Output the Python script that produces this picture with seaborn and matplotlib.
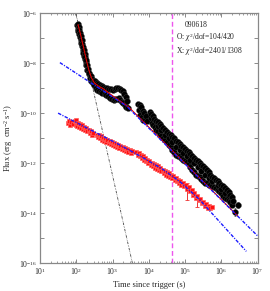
import numpy as np
import pandas as pd
import matplotlib
matplotlib.use("Agg")
import matplotlib.pyplot as plt
from matplotlib.ticker import FuncFormatter, NullFormatter
import seaborn as sns

# X-ray data (log10 time, log10 flux)
x_logt = [2.03, 2.04, 2.05, 2.06, 2.07, 2.08, 2.09, 2.10, 2.11, 2.12, 2.13, 2.14, 2.15, 2.16,
          2.17, 2.18, 2.19, 2.20, 2.21, 2.22, 2.23, 2.24, 2.25, 2.26, 2.27, 2.28, 2.30, 2.31,
          2.33, 2.34, 2.36, 2.38, 2.40, 2.42, 2.44, 2.46, 2.48, 2.50,
          2.52, 2.54, 2.56, 2.58, 2.60, 2.62, 2.65, 2.67, 2.70, 2.72, 2.75, 2.78, 2.80, 2.83,
          2.86, 2.88, 2.91, 2.93, 2.96, 2.98, 3.01, 3.03, 3.06, 3.08, 3.11, 3.13, 3.16, 3.18,
          3.20, 3.22, 3.24, 3.26, 3.28, 3.30, 3.32, 3.34, 3.36, 3.38, 3.40, 3.42,
          3.71, 3.73, 3.75, 3.77, 3.79, 3.81, 3.83, 3.85, 3.87, 3.90, 3.93, 3.95,
          4.03, 4.05, 4.07, 4.09, 4.11, 4.13, 4.15, 4.17,
          4.20, 4.20, 4.25, 4.25, 4.25, 4.30, 4.30, 4.35, 4.35, 4.35, 4.40, 4.40,
          4.45, 4.45, 4.45, 4.50, 4.50, 4.55, 4.55, 4.55, 4.60, 4.60, 4.65, 4.65, 4.65,
          4.70, 4.70, 4.75, 4.75, 4.75, 4.80, 4.80, 4.85, 4.85, 4.85, 4.90, 4.90,
          4.95, 4.95, 4.95, 5.00, 5.00, 5.05, 5.05, 5.05, 5.10, 5.10, 5.15, 5.15, 5.15,
          5.20, 5.20, 5.25, 5.25, 5.25, 5.30, 5.30, 5.35, 5.35, 5.35, 5.40, 5.40,
          5.45, 5.45, 5.45, 5.50, 5.50, 5.55, 5.55, 5.55, 5.60, 5.60, 5.65, 5.65, 5.65,
          5.70, 5.70, 5.75, 5.75, 5.75, 5.80, 5.80, 5.85, 5.85, 5.90, 5.90, 5.90,
          5.95, 5.95, 6.00, 6.00, 6.00, 6.05, 6.05, 6.10, 6.10, 6.10, 6.15, 6.15,
          6.20, 6.20, 6.20, 6.25, 6.25, 6.30, 6.30, 6.33, 6.37, 6.45]
x_logf = [-6.48, -6.62, -6.42, -6.70, -6.55, -6.82, -6.68, -6.95, -6.80, -7.05, -6.92, -7.20, -7.08, -7.32,
          -7.22, -7.45, -7.35, -7.58, -7.48, -7.70, -7.62, -7.82, -7.75, -7.95, -7.88, -8.08, -8.05, -8.25,
          -8.22, -8.42, -8.38, -8.58, -8.52, -8.70, -8.62, -8.80, -8.72, -8.88,
          -8.72, -8.98, -8.80, -9.05, -8.84, -9.10, -8.88, -9.16, -8.92, -9.20, -8.96, -9.24, -8.98, -9.28,
          -9.00, -9.32, -9.02, -9.38, -9.04, -9.42, -9.06, -9.45, -9.02, -9.44, -8.98, -9.42, -8.98, -9.40,
          -9.02, -9.48, -9.05, -9.54, -9.12, -9.60, -9.22, -9.66, -9.34, -9.74, -9.50, -9.80,
          -9.62, -9.85, -9.68, -10.05, -9.76, -10.15, -9.90, -10.25, -10.00, -10.28, -10.10, -10.32,
          -9.95, -10.20, -10.02, -10.38, -10.12, -10.48, -10.22, -10.55,
          -10.30, -10.65, -10.35, -10.72, -10.52, -10.42, -10.82, -10.50, -10.90, -10.68, -10.58, -11.00,
          -10.66, -11.08, -10.85, -10.75, -11.15, -10.82, -11.25, -11.00, -10.88, -11.35, -10.95, -11.45, -11.15,
          -11.00, -11.55, -11.10, -11.65, -11.35, -11.15, -11.70, -11.22, -11.72, -11.45, -11.30, -11.78,
          -11.35, -11.85, -11.60, -11.42, -11.90, -11.50, -11.95, -11.72, -11.55, -12.02, -11.62, -12.15, -11.85,
          -11.70, -12.25, -11.78, -12.35, -12.00, -11.85, -12.45, -11.92, -12.50, -12.15, -12.00, -12.55,
          -12.05, -12.62, -12.30, -12.12, -12.70, -12.18, -12.78, -12.45, -12.25, -12.80, -12.35, -12.85, -12.60,
          -12.48, -12.88, -12.55, -12.92, -12.72, -12.60, -12.95, -12.65, -13.00, -12.70, -13.05, -12.88,
          -12.78, -13.12, -12.85, -13.20, -13.02, -12.92, -13.30, -13.00, -13.38, -13.20, -13.08, -13.42,
          -13.15, -13.48, -13.32, -13.25, -13.55, -13.35, -13.65, -13.50, -13.93, -13.67]

# optical data (log10 time, log10 flux)
o_logt = [1.78, 1.80, 1.83, 1.86, 1.90, 1.96, 1.98, 2.00, 2.03, 2.05, 2.08, 2.10, 2.13, 2.16,
          2.19, 2.22, 2.25, 2.28, 2.31, 2.34, 2.37, 2.40, 2.43, 2.46,
          2.56, 2.59, 2.62, 2.65, 2.68, 2.71, 2.74, 2.77, 2.80, 2.83, 2.86, 2.89, 2.92, 2.95,
          2.98, 3.01, 3.04, 3.07, 3.10, 3.13, 3.16, 3.19, 3.22, 3.25, 3.28, 3.31, 3.34, 3.37,
          3.40, 3.43, 3.47, 3.51, 3.55,
          3.66, 3.69, 3.72, 3.75, 3.78, 3.81, 3.84, 3.87, 3.90, 3.93, 3.96, 3.99, 4.02, 4.05,
          4.08, 4.11, 4.14, 4.17, 4.20, 4.23, 4.26, 4.29, 4.32, 4.35, 4.38, 4.41, 4.44, 4.47,
          4.50, 4.53, 4.56, 4.59, 4.62, 4.65, 4.68, 4.71, 4.74, 4.77, 4.80, 4.83, 4.86, 4.90,
          4.94, 4.98, 5.02, 5.06, 5.10, 5.14, 5.18, 5.22, 5.26, 5.30, 5.34, 5.38, 5.42, 5.46,
          5.50, 5.54, 5.58, 5.62, 5.66, 5.70, 5.73]
o_logf = [-10.40, -10.32, -10.45, -10.36, -10.42, -10.30, -10.45, -10.28, -10.50, -10.38, -10.55, -10.42, -10.60, -10.48,
          -10.62, -10.55, -10.68, -10.60, -10.72, -10.65, -10.80, -10.72, -10.85, -10.78,
          -10.85, -10.95, -10.88, -11.00, -10.92, -11.05, -10.98, -11.10, -11.02, -11.15, -11.05, -11.18, -11.10, -11.22,
          -11.15, -11.26, -11.18, -11.30, -11.22, -11.35, -11.26, -11.38, -11.30, -11.42, -11.35, -11.46, -11.40, -11.50,
          -11.44, -11.55, -11.48, -11.58, -11.52,
          -11.55, -11.68, -11.60, -11.72, -11.65, -11.78, -11.70, -11.85, -11.78, -11.92, -11.85, -11.98, -11.90, -12.05,
          -11.98, -12.12, -12.03, -12.18, -12.08, -12.22, -12.12, -12.28, -12.18, -12.32, -12.25, -12.38, -12.30, -12.45,
          -12.35, -12.50, -12.40, -12.55, -12.45, -12.60, -12.52, -12.65, -12.58, -12.72, -12.65, -12.78, -12.72, -12.85,
          -12.78, -12.92, -12.88, -13.02, -12.95, -13.12, -13.05, -13.25, -13.20, -13.38, -13.30, -13.48, -13.42, -13.60,
          -13.55, -13.70, -13.62, -13.78, -13.70, -13.80, -13.75]

# a few larger error bars (log10 time, centre, low, high)
o_err_logt = [5.05, 5.33]
o_err_mid = [-13.10, -13.50]
o_err_lo = [-13.47, -13.74]
o_err_hi = [-12.78, -13.27]
x_err_logt = [6.37, 6.45]
x_err_mid = [-13.93, -13.67]
x_err_lo = [-14.10, -13.80]
x_err_hi = [-13.78, -13.55]

# model components (log10 time, log10 flux)
steep_logt = [1.99, 3.55]
steep_logf = [-6.0, -16.0]
xmod_logt = [1.55, 3.39, 7.0]
xmod_logf = [-7.97, -9.71, -14.9]
omod_logt = [1.50, 3.20, 3.90, 4.40, 4.90, 5.40, 6.69]
omod_logf = [-9.99, -11.26, -11.82, -12.25, -12.78, -13.45, -15.52]
xtot_logt = [2.05, 2.12, 2.20, 2.28, 2.35, 2.42, 2.50, 2.60, 2.75, 2.93, 3.20, 3.45, 4.0, 5.0, 6.45]
xtot_logf = [-6.45, -6.85, -7.35, -7.87, -8.28, -8.58, -8.78, -8.90, -9.02, -9.22, -9.50, -9.75,
             -10.55, -12.0, -14.1]
t_break = 4.4e4

x_major = [1e1, 1e2, 1e3, 1e4, 1e5, 1e6, 1e7]
y_major = [1e-16, 1e-15, 1e-14, 1e-13, 1e-12, 1e-11, 1e-10, 1e-9, 1e-8, 1e-7, 1e-6]

sns.set_style("ticks")
plt.rcParams["font.family"] = ["Liberation Serif", "DejaVu Serif"]
plt.rcParams["mathtext.fontset"] = "custom"
plt.rcParams["mathtext.rm"] = "Liberation Serif"
plt.rcParams["mathtext.it"] = "Liberation Serif:italic"

p = lambda v: 10 ** np.asarray(v, dtype=float)

fig = plt.figure(figsize=(2.70, 2.91), dpi=100)
ax = fig.add_axes([0.148, 0.095, 0.806, 0.859])

xdf = pd.DataFrame({"t": p(x_logt), "f": p(x_logf)})
odf = pd.DataFrame({"t": p(o_logt), "f": p(o_logf)})

ax.errorbar(p(o_err_logt), p(o_err_mid),
            yerr=[p(o_err_mid) - p(o_err_lo), p(o_err_hi) - p(o_err_mid)],
            fmt="none", ecolor="#ee3333", elinewidth=0.7, capsize=1.2, capthick=0.6)
ax.errorbar(p(x_err_logt), p(x_err_mid),
            yerr=[p(x_err_mid) - p(x_err_lo), p(x_err_hi) - p(x_err_mid)],
            fmt="none", ecolor="#555555", elinewidth=0.6, capsize=1.0, capthick=0.5)

sns.scatterplot(data=odf, x="t", y="f", ax=ax, color="#ff1010", marker="s", s=12,
                edgecolor="#ff6060", linewidth=0.5, legend=False, zorder=3)
sns.scatterplot(data=xdf, x="t", y="f", ax=ax, color="black", marker="o", s=18,
                edgecolor="#3a3a3a", linewidth=0.3, legend=False, zorder=3)

sns.lineplot(x=p(xtot_logt), y=p(xtot_logf), ax=ax, color="#dd0000", lw=0.8,
             sort=False, estimator=None, zorder=4)
ax.plot(p(steep_logt), p(steep_logf), color="#444444", lw=0.6,
        dashes=(3, 1.2, 0.6, 1.2, 0.6, 1.2), zorder=2)
ax.plot(p(xmod_logt), p(xmod_logf), color="#1a1aff", lw=1.0,
        dashes=(2.5, 1, 0.8, 1), zorder=5)
ax.plot(p(omod_logt), p(omod_logf), color="#1a1aff", lw=1.0,
        dashes=(2.5, 1, 0.8, 1), zorder=5)
ax.axvline(t_break, color="#ee55ee", lw=1.0, ls=(0, (3.5, 2)), zorder=1)

ax.set_xscale("log")
ax.set_yscale("log")
ax.set_xticks(x_major)
ax.set_xticks([m * d for d in x_major[:-1] for m in range(2, 10)], minor=True)
ax.set_yticks(y_major)
ax.set_yticks([], minor=True)
ax.set_xlim(1e1, 1e7)
ax.set_ylim(1e-16, 1e-6)

ax.xaxis.set_minor_formatter(NullFormatter())
ax.xaxis.set_major_formatter(FuncFormatter(lambda v, _: r"$10^{%d}$" % round(np.log10(v))))
ax.yaxis.set_major_formatter(FuncFormatter(
    lambda v, _: r"$10^{%d}$" % round(np.log10(v)) if round(np.log10(v)) % 2 == 0 else ""))

ax.tick_params(which="both", direction="in", top=True, right=True,
               labelsize=5.5, pad=2, color="#777777")
ax.tick_params(which="major", length=3, width=0.6)
ax.tick_params(which="minor", length=1.7, width=0.5)
for s in ax.spines.values():
    s.set_color("#888888")
    s.set_linewidth(0.9)

ax.set_xlabel("Time since trigger (s)", fontsize=6)
ax.set_ylabel(r"Flux (erg  cm$^{-2}$ s$^{-1}$)", fontsize=6)
ax.xaxis.set_label_coords(0.5, -0.072)
ax.yaxis.set_label_coords(-0.115, 0.5)

ax.text(0.665, 0.955, "090618", transform=ax.transAxes, fontsize=5.5, va="center")
ax.text(0.627, 0.902, r"O: $\chi^2$/dof=104/420", transform=ax.transAxes, fontsize=5.5, va="center")
ax.text(0.627, 0.846, r"X: $\chi^2$/dof=2401/1308", transform=ax.transAxes, fontsize=5.5, va="center")

fig.savefig("out.png", dpi=100)
